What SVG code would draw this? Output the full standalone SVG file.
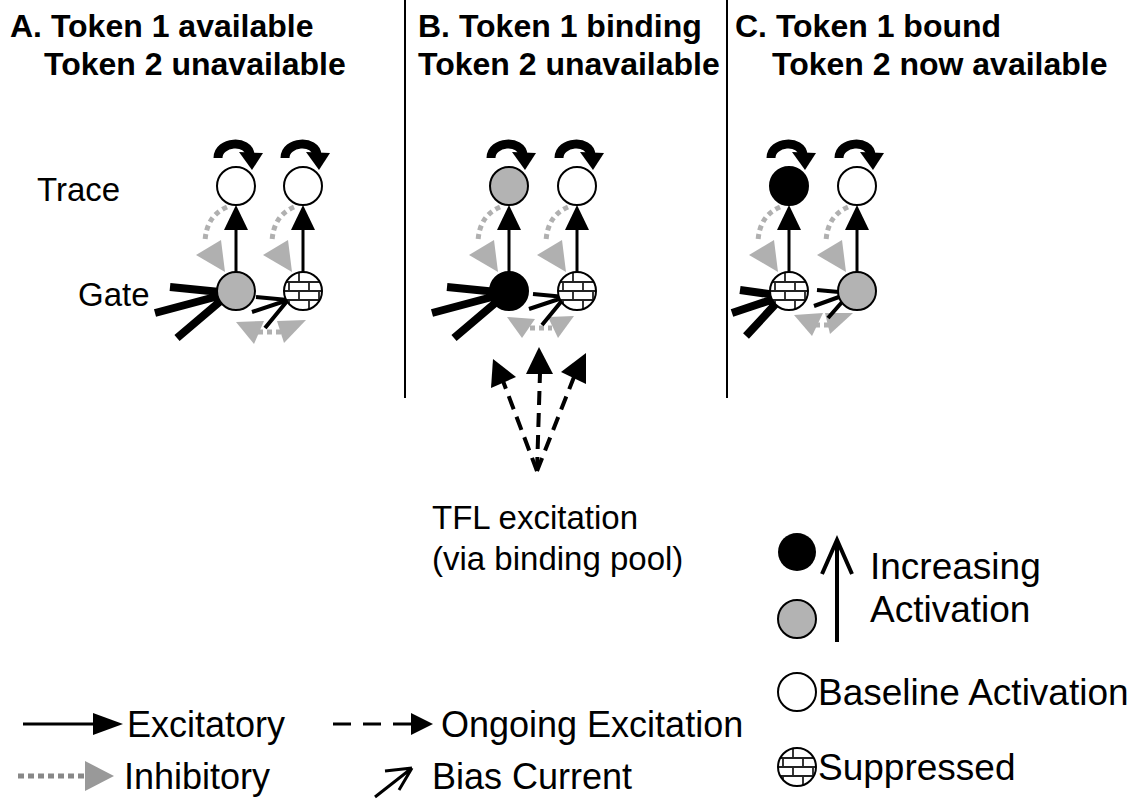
<svg xmlns="http://www.w3.org/2000/svg" xmlns:xlink="http://www.w3.org/1999/xlink" width="1146" height="802" viewBox="0 0 1146 802">
<style>
text{font-family:"Liberation Sans",Arial,sans-serif;fill:#000}
.title{font-weight:bold;font-size:32px}
.lab{font-size:33px}
.leg{font-size:36px}
.legr{font-size:37px}
.node{stroke:#000;stroke-width:2}
.white{fill:#fff}
.gray{fill:#b3b3b3}
.black{fill:#000}
.self{fill:none;stroke:#000;stroke-width:9}
.exc{stroke:#000;stroke-width:3}
.inh{fill:none;stroke:#b0b0b0;stroke-width:5;stroke-dasharray:5 4}
.inhhead{fill:#b0b0b0}
.thick{stroke:#000;stroke-width:8;fill:none}
.thin{stroke:#000;stroke-width:4;fill:none}
.dash{stroke:#000;stroke-width:4;stroke-dasharray:14 8;fill:none}
.brick{stroke:#222;stroke-width:1.8;fill:none}
</style>
<defs>
<clipPath id="bc"><circle cx="0" cy="0" r="19"/></clipPath>
<g id="brickc">
<circle cx="0" cy="0" r="19" fill="#fff"/>
<g clip-path="url(#bc)" class="brick">
<path d="M-20,-9H20M-20,0H20M-20,9H20M-4,-20V-9M6,-9V0M-14,-9V0M-4,0V9M16,0V9M6,9V20M-14,9V20"/>
</g>
<circle cx="0" cy="0" r="19" fill="none" stroke="#000" stroke-width="2"/>
</g>
</defs>
<rect width="1146" height="802" fill="#fff"/>

<g id="titles">
<text class="title" x="10" y="37">A. Token 1 available</text>
<text class="title" x="44" y="75">Token 2 unavailable</text>
<text class="title" x="418" y="37">B. Token 1 binding</text>
<text class="title" x="418" y="75">Token 2 unavailable</text>
<text class="title" x="735" y="37">C. Token 1 bound</text>
<text class="title" x="772" y="75">Token 2 now available</text>
</g>
<g id="dividers" stroke="#000" stroke-width="2">
<line x1="405" y1="0" x2="405" y2="398"/>
<line x1="727" y1="0" x2="727" y2="398"/>
</g>
<g id="labels">
<text class="lab" x="37" y="201">Trace</text>
<text class="lab" x="78" y="306">Gate</text>
<text class="lab" x="432" y="529">TFL excitation</text>
<text class="lab" x="432" y="570">(via binding pool)</text>
</g>

<g id="connectors">
<g>
<path class="self" d="M218,158 C218,141 249,139 250,155"/><polygon points="239,152 263,153 252,170"/>
<path class="self" d="M285,158 C285,141 316,139 317,155"/><polygon points="306,152 330,153 319,170"/>
<path class="self" d="M491,158 C491,141 522,139 523,155"/><polygon points="512,152 536,153 525,170"/>
<path class="self" d="M559,158 C559,141 590,139 591,155"/><polygon points="580,152 604,153 593,170"/>
<path class="self" d="M771,158 C771,141 802,139 803,155"/><polygon points="792,152 816,153 805,170"/>
<path class="self" d="M839,158 C839,141 870,139 871,155"/><polygon points="860,152 884,153 873,170"/>
</g>
<g>
<line class="exc" x1="236" y1="272" x2="236" y2="228"/><polygon points="236,205 224,230 248,230"/>
<line class="exc" x1="303" y1="272" x2="303" y2="228"/><polygon points="303,205 291,230 315,230"/>
<line class="exc" x1="509" y1="272" x2="509" y2="228"/><polygon points="509,205 497,230 521,230"/>
<line class="exc" x1="577" y1="272" x2="577" y2="228"/><polygon points="577,205 565,230 589,230"/>
<line class="exc" x1="789" y1="272" x2="789" y2="228"/><polygon points="789,205 777,230 801,230"/>
<line class="exc" x1="857" y1="272" x2="857" y2="228"/><polygon points="857,205 845,230 869,230"/>
</g>
<g>
<path class="inh" d="M227,207 Q206,216 205,242"/><polygon class="inhhead" points="196,255 221,240 225,272"/>
<path class="inh" d="M294,207 Q273,216 272,242"/><polygon class="inhhead" points="263,255 288,240 292,272"/>
<path class="inh" d="M500,207 Q479,216 478,242"/><polygon class="inhhead" points="469,255 494,240 498,272"/>
<path class="inh" d="M568,207 Q547,216 546,242"/><polygon class="inhhead" points="537,255 562,240 566,272"/>
<path class="inh" d="M780,207 Q759,216 758,242"/><polygon class="inhhead" points="749,255 774,240 778,272"/>
<path class="inh" d="M848,207 Q827,216 826,242"/><polygon class="inhhead" points="817,255 842,240 846,272"/>
</g>
<g>
<path class="inh" d="M258,332 H282"/><polygon class="inhhead" points="236,322 264,321 254,344"/><polygon class="inhhead" points="277,321 306,320 284,343"/>
<path class="inh" d="M530,328 H552"/><polygon class="inhhead" points="507,317 535,319 522,338"/><polygon class="inhhead" points="548,317 574,316 558,338"/>
<path class="inh" d="M815,325 H832"/><polygon class="inhhead" points="794,315 823,313 812,336"/><polygon class="inhhead" points="825,313 853,313 830,334"/>
</g>
<g>
<path class="thick" d="M155,313 L230,293 M170,287 L230,293 M177,338 L230,293"/>
<path class="thick" d="M432,313 L507,293 M447,287 L507,293 M454,338 L507,293"/>
<path class="thick" d="M732,313 L783,296 M740,290 L783,296 M746,336 L783,296"/>
</g>
<g>
<path class="thin" d="M256,297 L288,300 M252,312 L288,300 M265,328 L288,300"/>
<path class="thin" d="M533,294 L565,297 M529,309 L565,297 M542,325 L565,297"/>
<path class="thin" d="M817,290 L850,293 M814,306 L850,293 M828,318 L850,293"/>
</g>
<g>
<path class="dash" d="M537,471 L503,381"/><polygon points="493,359 516,377 491,388"/>
<path class="dash" d="M537,471 L540,373"/><polygon points="539,347 526,374 553,374"/>
<path class="dash" d="M537,471 L574,377"/><polygon points="586,353 561,372 586,384"/>
</g>
</g>

<g id="nodes">
<g id="A_trace1"><circle class="node white" cx="236" cy="186" r="19"/></g>
<g id="A_trace2"><circle class="node white" cx="303" cy="186" r="19"/></g>
<g id="A_gate1"><circle class="node gray" cx="236" cy="291" r="19"/></g>
<g id="A_gate2"><use xlink:href="#brickc" href="#brickc" x="303" y="291"/></g>
<g id="B_trace1"><circle class="node gray" cx="509" cy="186" r="19"/></g>
<g id="B_trace2"><circle class="node white" cx="577" cy="186" r="19"/></g>
<g id="B_gate1"><circle class="node black" cx="509" cy="291" r="19"/></g>
<g id="B_gate2"><use xlink:href="#brickc" href="#brickc" x="577" y="291"/></g>
<g id="C_trace1"><circle class="node black" cx="789" cy="186" r="19"/></g>
<g id="C_trace2"><circle class="node white" cx="857" cy="186" r="19"/></g>
<g id="C_gate1"><use xlink:href="#brickc" href="#brickc" x="789" y="291"/></g>
<g id="C_gate2"><circle class="node gray" cx="857" cy="291" r="19"/></g>
</g>

<g id="legend">
<line x1="23" y1="724" x2="95" y2="724" stroke="#000" stroke-width="3"/>
<polygon points="93,713 123,724 93,735"/>
<text class="leg" x="127" y="737">Excitatory</text>
<line x1="333" y1="724" x2="411" y2="724" stroke="#000" stroke-width="3" stroke-dasharray="18 12"/>
<polygon points="411,713 433,724 411,735"/>
<text class="leg" x="441" y="737">Ongoing Excitation</text>
<line x1="18" y1="776" x2="86" y2="776" stroke="#888" stroke-width="5" stroke-dasharray="6 4"/>
<polygon points="85,761 114,776 85,791" fill="#999"/>
<text class="leg" x="124" y="789">Inhibitory</text>
<path d="M385,771 L412,768 M375,797 L412,768 M399,790 L412,768" stroke="#000" stroke-width="3" fill="none"/>
<text class="leg" x="432" y="789">Bias Current</text>

<circle cx="797" cy="552" r="19" fill="#000"/>
<circle class="node gray" cx="797" cy="619" r="19"/>
<line x1="837" y1="642" x2="837" y2="540" stroke="#000" stroke-width="4"/>
<path d="M822,574 L837,540 L852,574" stroke="#000" stroke-width="4" fill="none"/>
<text class="legr" x="870" y="579">Increasing</text>
<text class="legr" x="870" y="622">Activation</text>
<circle class="node white" cx="797" cy="692" r="19"/>
<text class="legr" x="818" y="705">Baseline Activation</text>
<use xlink:href="#brickc" href="#brickc" x="797" y="767"/>
<text class="legr" x="818" y="780">Suppressed</text>
</g>
</svg>
